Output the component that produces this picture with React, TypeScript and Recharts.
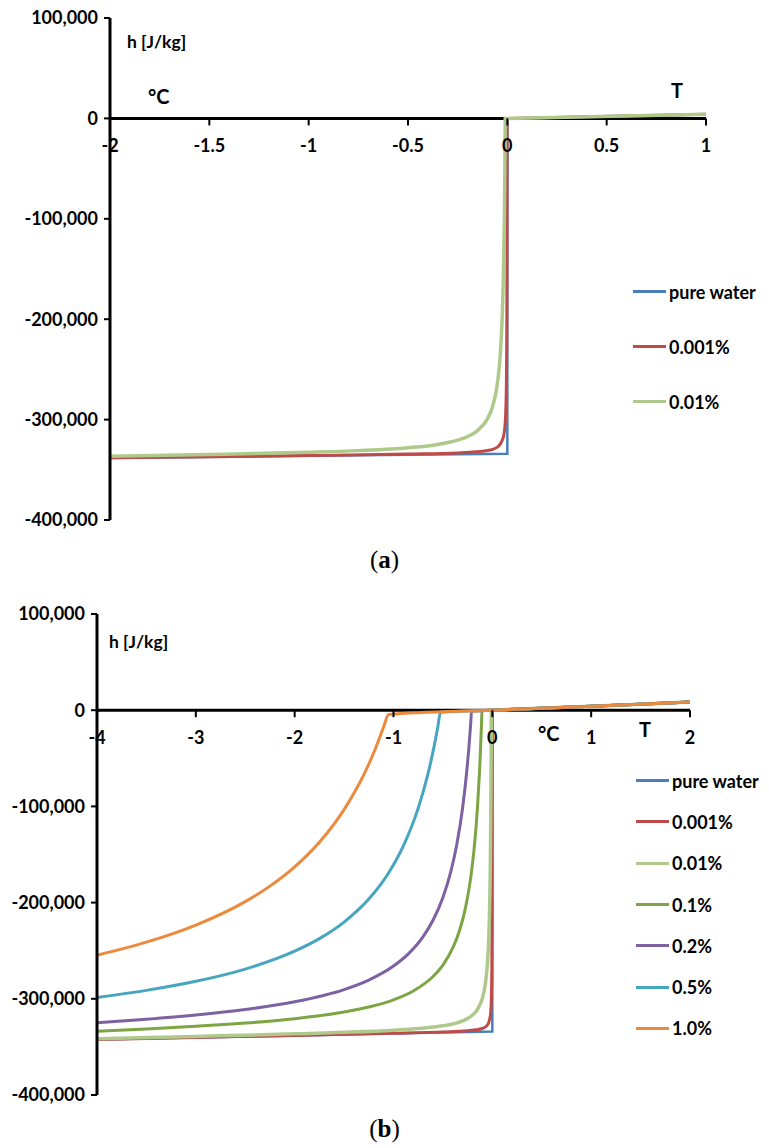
import React from 'react';
import {
  ComposedChart,
  Line,
  Scatter,
  XAxis,
  YAxis,
  ReferenceLine,
  Legend,
} from 'recharts';

type Pt = [number, number];

// T [°C], h [J/kg]
const pureWater: Pt[] = [
  [-4, -342400], [-3, -340300], [-2, -338200], [-1, -336100], [0, -334000],
  [0, 0], [1, 4200], [2, 8400],
];
const pct0001: Pt[] = [
  [-4, -342310], [-3, -340180], [-2, -338030], [-1.5, -336930], [-1, -335770],
  [-0.5, -334380], [-0.25, -333190], [-0.1, -330870], [-0.05, -327430],
  [-0.02, -317340], [-0.01, -300620], [-0.005, -267210], [-0.003, -222680],
  [-0.002, -167000], [-0.0015, -111330], [-0.0012, -55670], [-0.00105, -4],
  [0, 0], [1, 4200], [2, 8400],
];
const pct001: Pt[] = [
  [-4, -341520], [-3, -339130], [-2, -336450], [-1.5, -334810], [-1, -332590],
  [-0.75, -330900], [-0.5, -328040], [-0.35, -324720], [-0.25, -320500],
  [-0.2, -316890], [-0.15, -310940], [-0.1, -299140], [-0.075, -287400],
  [-0.05, -263970], [-0.035, -233870], [-0.025, -193770], [-0.02, -158690],
  [-0.015, -100230], [-0.0125, -53470], [-0.0115, -29060], [-0.0105, -44],
  [0, 0], [1, 4200], [2, 8400],
];
const pct01: Pt[] = [
  [-4, -333630], [-3.5, -331330], [-3, -328610], [-2.5, -325220], [-2, -320670],
  [-1.5, -313770], [-1.25, -308570], [-1, -301030], [-0.8, -291840],
  [-0.6, -276810], [-0.5, -264910], [-0.4, -247170], [-0.33, -228420],
  [-0.27, -204680], [-0.22, -175050], [-0.18, -139550], [-0.15, -100520],
  [-0.13, -64500], [-0.12, -42000], [-0.11, -15410], [-0.105, -440],
  [0, 0], [1, 4200], [2, 8400],
];
const pct02: Pt[] = [
  [-4, -324870], [-3.5, -321310], [-3, -316920], [-2.5, -311190], [-2, -303130],
  [-1.5, -290390], [-1.25, -280510], [-1, -265960], [-0.85, -253270],
  [-0.7, -235270], [-0.6, -218360], [-0.5, -194770], [-0.42, -167880],
  [-0.36, -139930], [-0.3, -100830], [-0.26, -64780], [-0.24, -42250],
  [-0.22, -15640], [-0.21, -880], [0, 0], [1, 4200], [2, 8400],
];
const pct05: Pt[] = [
  [-4, -298560], [-3.5, -291250], [-3, -281850], [-2.5, -269110], [-2, -250530],
  [-1.75, -237480], [-1.5, -220250], [-1.25, -196350], [-1.05, -169210],
  [-0.9, -141060], [-0.75, -101780], [-0.65, -65600], [-0.6, -43010],
  [-0.55, -16340], [-0.525, -2205], [0, 0], [1, 4200], [2, 8400],
];
const pct10: Pt[] = [
  [-4, -254730], [-3.5, -241150], [-3, -223400], [-2.5, -198970],
  [-2.25, -182860], [-2, -162850], [-1.75, -137280], [-1.6, -118170],
  [-1.5, -103350], [-1.4, -86440], [-1.3, -66960], [-1.2, -44270],
  [-1.1, -17490], [-1.05, -4410], [0, 0], [1, 4200], [2, 8400],
];

const seriesNames = ['pure water', '0.001%', '0.01%', '0.1%', '0.2%', '0.5%', '1.0%'];
const seriesPoints = [pureWater, pct0001, pct001, pct01, pct02, pct05, pct10];
const seriesColors = ['#4A7EBB', '#BE4B48', '#AFC98A', '#7DA543', '#7E61A1', '#46A6BF', '#EB8A3C'];
const seriesWidths = [2.5, 3, 3.5, 3, 3, 3, 3];

const yTicks = [100000, 0, -100000, -200000, -300000, -400000];
const xTicksA = [-2, -1.5, -1, -0.5, 0, 0.5, 1];
const xTicksB = [-4, -3, -2, -1, 0, 1, 2];

const FONT = 'Lato, "Open Sans", sans-serif';

const XTick = (props: any) => {
  const { cx, cy } = props;
  const t = props.payload?.T ?? props.T;
  if (typeof cx !== 'number' || typeof cy !== 'number') return null;
  return (
    <g>
      <line x1={cx} y1={cy} x2={cx} y2={cy + 7} stroke="#000" strokeWidth={2} />
      <text
        x={cx}
        y={cy + 27}
        textAnchor="middle"
        dominantBaseline="central"
        fontFamily={FONT}
        fontWeight="bold"
        fontSize={18}
        fill="#000"
      >
        {String(t)}
      </text>
    </g>
  );
};

// legend drawn in series order (the default legend sorts by name)
const makeLegend = (gap: number, count: number) => () => (
  <div>
    {seriesNames.slice(0, count).map((name, i) => (
      <div key={name} style={{ display: 'flex', alignItems: 'center', height: gap }}>
        <span style={{ width: 33, height: 3, background: seriesColors[i], marginRight: 3 }} />
        <span style={{ fontFamily: FONT, fontWeight: 'bold', fontSize: 18, color: '#000', whiteSpace: 'nowrap' }}>
          {name}
        </span>
      </div>
    ))}
  </div>
);

interface PanelProps {
  top: number;
  height: number;
  margin: { top: number; right: number; left: number; bottom: number };
  yAxisWidth: number;
  xDomain: [number, number];
  xTicks: number[];
  count: number;
  legendGap: number;
  legendLeft: number;
  legendTop: number;
}

const Panel = ({ top, height, margin, yAxisWidth, xDomain, xTicks, count, legendGap, legendLeft, legendTop }: PanelProps) => {
  const tickRows = xTicks.map((T) => ({ T, h: 0 }));
  return (
    <div style={{ position: 'absolute', left: 0, top }}>
      <ComposedChart width={769} height={height} margin={margin}>
        <XAxis dataKey="T" type="number" domain={xDomain} hide />
        <YAxis
          type="number"
          domain={[-400000, 100000]}
          ticks={yTicks}
          width={yAxisWidth}
          interval={0}
          axisLine={{ stroke: '#000', strokeWidth: 3 }}
          tickLine={{ stroke: '#000', strokeWidth: 2 }}
          tickSize={6}
          tickMargin={6}
          tick={{ fill: '#000', fontFamily: FONT, fontWeight: 'bold', fontSize: 18 }}
          tickFormatter={(v: number) => v.toLocaleString('en-US')}
        />
        <ReferenceLine y={0} stroke="#000" strokeWidth={3} />
        {seriesNames.slice(0, count).map((name, i) => (
          <Line
            key={name}
            name={name}
            data={seriesPoints[i]
              .filter(([T]) => T >= xDomain[0] && T <= xDomain[1])
              .map(([T, h]) => ({ T, h }))}
            dataKey="h"
            type={i === 0 ? 'linear' : 'monotone'}
            stroke={seriesColors[i]}
            strokeWidth={seriesWidths[i]}
            dot={false}
            activeDot={false}
            isAnimationActive={false}
          />
        ))}
        <Scatter
          data={tickRows}
          dataKey="h"
          shape={XTick}
          legendType="none"
          isAnimationActive={false}
        />
        <Legend
          layout="vertical"
          align="center"
          verticalAlign="middle"
          content={makeLegend(legendGap, count)}
          wrapperStyle={{ left: legendLeft, top: legendTop, width: 150 }}
        />
      </ComposedChart>
    </div>
  );
};

const note = (left: number, top: number, text: string, size: number) => (
  <div
    style={{
      position: 'absolute',
      left,
      top,
      fontFamily: FONT,
      fontWeight: 'bold',
      fontSize: size,
      lineHeight: 1,
      color: '#000',
      whiteSpace: 'nowrap',
    }}
  >
    {text}
  </div>
);

const caption = (top: number, letter: string) => (
  <div
    style={{
      position: 'absolute',
      left: 0,
      width: 769,
      top,
      textAlign: 'center',
      fontFamily: '"Liberation Serif", "DejaVu Serif", serif',
      fontSize: 25,
      lineHeight: 1,
      color: '#000',
    }}
  >
    (<b>{letter}</b>)
  </div>
);

export default function App() {
  return (
    <div style={{ position: 'relative', width: 769, height: 1148, background: '#fff', overflow: 'hidden' }}>
      <style>{'body{margin:0;background:#fff}'}</style>
      <Panel
        top={0}
        height={540}
        margin={{ top: 18, right: 63, left: 0, bottom: 20 }}
        yAxisWidth={110}
        xDomain={[-2, 1]}
        xTicks={xTicksA}
        count={3}
        legendGap={55}
        legendLeft={633}
        legendTop={264}
      />
      {note(127, 33, 'h [J/kg]', 17.5)}
      {note(148, 86, '°C', 20)}
      {note(671, 80, 'T', 20)}
      {caption(547, 'a')}

      <Panel
        top={590}
        height={530}
        margin={{ top: 24, right: 79, left: 0, bottom: 25 }}
        yAxisWidth={97}
        xDomain={[-4, 2]}
        xTicks={xTicksB}
        count={7}
        legendGap={41.3}
        legendLeft={636}
        legendTop={170}
      />
      {note(109, 633, 'h [J/kg]', 17.5)}
      {note(538, 723, '°C', 20)}
      {note(639, 719, 'T', 20)}
      {caption(1116, 'b')}
    </div>
  );
}
